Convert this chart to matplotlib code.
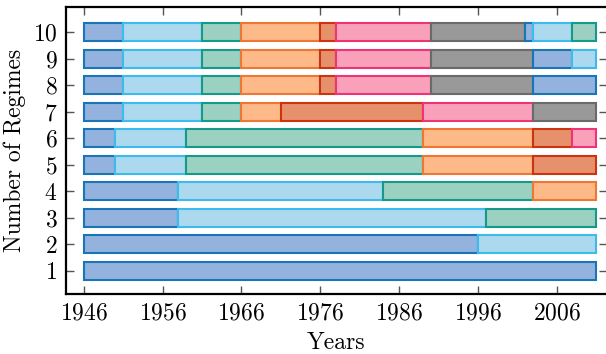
import matplotlib
matplotlib.use("Agg")
import matplotlib.pyplot as plt

plt.rcParams['font.family'] = 'serif'
plt.rcParams['font.serif'] = ['cmr10']
plt.rcParams['axes.formatter.use_mathtext'] = True

# regime boundaries (years) for each number of regimes
regimes_1 = [1946, 2011]
regimes_2 = [1946, 1996, 2011]
regimes_3 = [1946, 1958, 1997, 2011]
regimes_4 = [1946, 1958, 1984, 2003, 2011]
regimes_5 = [1946, 1950, 1959, 1989, 2003, 2011]
regimes_6 = [1946, 1950, 1959, 1989, 2003, 2008, 2011]
regimes_7 = [1946, 1951, 1961, 1966, 1971, 1989, 2003, 2011]
regimes_8 = [1946, 1951, 1961, 1966, 1976, 1978, 1990, 2003, 2011]
regimes_9 = [1946, 1951, 1961, 1966, 1976, 1978, 1990, 2003, 2008, 2011]
regimes_10 = [1946, 1951, 1961, 1966, 1976, 1978, 1990, 2002, 2003, 2008, 2011]

all_regimes = [regimes_1, regimes_2, regimes_3, regimes_4, regimes_5,
               regimes_6, regimes_7, regimes_8, regimes_9, regimes_10]
year_ticks = [1946, 1956, 1966, 1976, 1986, 1996, 2006]

face_colors = ['#93b2de', '#acd9ee', '#9bd1c0', '#fdb987', '#e6906c', '#f9a1bb', '#999999']
edge_colors = ['#1a74b8', '#3dbbec', '#14998a', '#ee7733', '#cc3311', '#ee3377', '#6a6a6a']

fig = plt.figure(figsize=(6.06, 3.54), dpi=100)
ax = fig.add_axes([0.1084, 0.1686, 0.8933, 0.8108])

for n, bounds in enumerate(all_regimes, start=1):
    for i in range(len(bounds) - 1):
        ax.barh(n, bounds[i + 1] - bounds[i], left=bounds[i], height=0.68,
                color=face_colors[i % 7], edgecolor=edge_colors[i % 7],
                linewidth=1.5)

ax.set_xlim(1943.7, 2012.4)
ax.set_ylim(0.11, 10.94)
ax.set_xticks(year_ticks)
ax.set_yticks(range(1, 11))
ax.tick_params(direction='in', top=True, right=True, length=6, width=1,
               color='#555555', labelsize=17, pad=6)
for s in ax.spines.values():
    s.set_linewidth(1.6)
ax.set_xlabel('Years', fontsize=17, labelpad=5)
ax.set_ylabel('Number of Regimes', fontsize=17, labelpad=5)

fig.savefig('out.png', dpi=100)
